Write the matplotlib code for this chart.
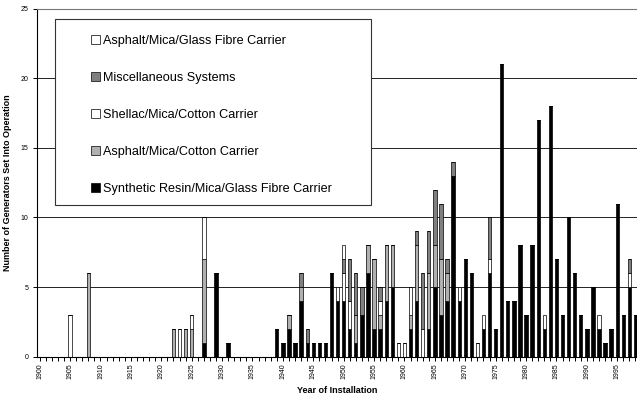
import numpy as np
import matplotlib
matplotlib.use("Agg")
import matplotlib.pyplot as plt
from matplotlib.patches import Rectangle, Patch

plt.rcParams['font.family'] = ['Liberation Sans', 'DejaVu Sans']

# installation years that have at least one generator
years = [1905, 1908, 1922, 1923, 1924, 1925, 1927, 1929, 1931, 1939,
         1940, 1941, 1942, 1943, 1944, 1945, 1946, 1947, 1948, 1949,
         1950, 1951, 1952, 1953, 1954, 1955, 1956, 1957, 1958, 1959,
         1960, 1961, 1962, 1963, 1964, 1965, 1966, 1967, 1968, 1969,
         1970, 1971, 1972, 1973, 1974, 1975, 1976, 1977, 1978, 1979,
         1980, 1981, 1982, 1983, 1984, 1985, 1986, 1987, 1988, 1989,
         1990, 1991, 1992, 1993, 1994, 1995, 1996, 1997, 1998]

resin_glass = [0, 0, 0, 0, 0, 0, 1, 6, 1, 2,
               1, 2, 1, 4, 1, 1, 1, 1, 6, 4,
               4, 2, 1, 3, 6, 2, 2, 4, 5, 0,
               0, 2, 4, 0, 2, 5, 3, 4, 13, 4,
               7, 6, 0, 2, 6, 2, 21, 4, 4, 8,
               3, 8, 17, 2, 18, 7, 3, 10, 6, 3,
               2, 5, 2, 1, 2, 11, 3, 5, 3]
asphalt_cotton = [0, 6, 2, 0, 2, 2, 6, 0, 0, 0,
                  0, 1, 0, 1, 0, 0, 0, 0, 0, 0,
                  0, 0, 2, 0, 2, 5, 1, 4, 3, 0,
                  0, 1, 4, 0, 4, 3, 4, 2, 0, 0,
                  0, 0, 0, 0, 0, 0, 0, 0, 0, 0,
                  0, 0, 0, 0, 0, 0, 0, 0, 0, 0,
                  0, 0, 0, 0, 0, 0, 0, 0, 0]
shellac_cotton = [3, 0, 0, 2, 0, 1, 3, 0, 0, 0,
                  0, 0, 0, 0, 0, 0, 0, 0, 0, 0,
                  2, 2, 0, 0, 0, 0, 1, 0, 0, 1,
                  1, 2, 0, 2, 0, 0, 0, 0, 0, 0,
                  0, 0, 1, 0, 1, 0, 0, 0, 0, 0,
                  0, 0, 0, 0, 0, 0, 0, 0, 0, 0,
                  0, 0, 0, 0, 0, 0, 0, 1, 0]
misc = [0, 0, 0, 0, 0, 0, 0, 0, 0, 0,
        0, 0, 0, 1, 1, 0, 0, 0, 0, 0,
        1, 3, 3, 2, 0, 0, 1, 0, 0, 0,
        0, 0, 1, 4, 3, 4, 4, 1, 1, 0,
        0, 0, 0, 0, 3, 0, 0, 0, 0, 0,
        0, 0, 0, 0, 0, 0, 0, 0, 0, 0,
        0, 0, 0, 0, 0, 0, 0, 1, 0]
asphalt_glass = [0, 0, 0, 0, 0, 0, 0, 0, 0, 0,
                 0, 0, 0, 0, 0, 0, 0, 0, 0, 1,
                 1, 0, 0, 0, 0, 0, 0, 0, 0, 0,
                 0, 0, 0, 0, 0, 0, 0, 0, 0, 1,
                 0, 0, 0, 1, 0, 0, 0, 0, 0, 0,
                 0, 0, 0, 1, 0, 0, 0, 0, 0, 0,
                 0, 0, 1, 0, 0, 0, 0, 0, 0]

series = [
    ("Synthetic Resin/Mica/Glass Fibre Carrier", resin_glass, "black"),
    ("Asphalt/Mica/Cotton Carrier", asphalt_cotton, "#b0b0b0"),
    ("Shellac/Mica/Cotton Carrier", shellac_cotton, "white"),
    ("Miscellaneous Systems", misc, "#808080"),
    ("Asphalt/Mica/Glass Fibre Carrier", asphalt_glass, "white"),
]

fig = plt.figure(figsize=(6.37, 3.97), dpi=100)
ax = fig.add_axes([0.058, 0.1015, 0.942, 0.877])

x = np.array(years)
bottom = np.zeros(len(years))
for name, vals, col in series:
    vals = np.array(vals)
    ax.bar(x, vals, width=0.55, bottom=bottom, color=col,
           edgecolor="black", linewidth=0.5, zorder=2)
    bottom += vals

ax.set_xlim(1899.55, 1998.25)
ax.set_ylim(0, 25)
ax.set_yticks([0, 5, 10, 15, 20, 25])
ax.set_xticks(np.arange(1900, 1999))
ax.set_xticklabels([str(y) if y % 5 == 0 else "" for y in range(1900, 1999)],
                   rotation=90)
ax.tick_params(axis="x", length=3, width=0.7, labelsize=5, pad=2)
ax.tick_params(axis="y", length=3, width=0.7, labelsize=5, pad=3)

ax.yaxis.grid(True, color="#222222", linewidth=0.7)
ax.set_axisbelow(True)
ax.spines["right"].set_visible(False)
ax.spines["top"].set_color("#777777")
ax.spines["left"].set_linewidth(0.8)
ax.spines["bottom"].set_linewidth(0.8)

ax.set_xlabel("Year of Installation", fontsize=6.5, fontweight="bold", labelpad=5)
ax.set_ylabel("Number of Generators Set Into Operation", fontsize=6.5,
              fontweight="bold", labelpad=6)

# legend frame drawn separately so it can be wider than its entries
box = Rectangle((55 / 637, 1 - 205 / 397), 316 / 637, 186 / 397,
                transform=fig.transFigure, facecolor="white",
                edgecolor="#333333", linewidth=0.8, zorder=4, clip_on=False)
ax.add_patch(box)

handles = [Patch(facecolor=col, edgecolor="black", linewidth=0.5, label=name)
           for name, vals, col in series[::-1]]
leg = ax.legend(handles=handles, loc="upper left", frameon=False,
                bbox_to_anchor=(91 / 637, 1 - 35 / 397),
                bbox_transform=fig.transFigure, fontsize=9.1,
                handlelength=0.7, handleheight=0.7, handletextpad=0.25,
                labelspacing=1.97, borderpad=0, borderaxespad=0)
leg.set_zorder(5)

fig.savefig("out.png", dpi=100)
